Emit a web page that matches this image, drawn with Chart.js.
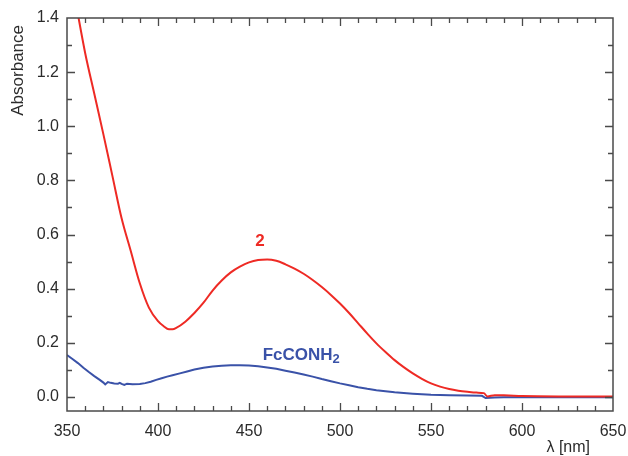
<!DOCTYPE html>
<html>
<head>
<meta charset="utf-8">
<script src="https://cdn.jsdelivr.net/npm/chart.js@4/dist/chart.umd.min.js"></script>
<style>
  body { margin: 0; background: #fff; }
  #wrap { width: 628px; height: 456px; }
</style>
</head>
<body>
<div id="wrap"><canvas id="spectra" width="628" height="456"></canvas></div>
<script>
// wavelength axis range and y ticks
const xRange = [350, 650];
const yRange = [-0.052, 1.4];
const yTickValues = [0.0, 0.2, 0.4, 0.6, 0.8, 1.0, 1.2, 1.4];

// compound 2
const lambdaRed = [350, 355, 360, 365, 370, 375, 380, 385, 390, 395, 400, 403, 406, 408, 410, 415, 420, 425, 430, 435,
  440, 445, 450, 455, 460, 465, 470, 475, 480, 485, 490, 495, 500, 505, 510, 515, 520, 525, 530, 535,
  540, 545, 550, 555, 560, 565, 570, 575, 579, 581, 585, 590, 600, 620, 650];
const absRed = [1.63, 1.45, 1.27, 1.12, 0.97, 0.815, 0.66, 0.54, 0.42, 0.33, 0.28, 0.262, 0.25, 0.25, 0.255, 0.278, 0.31, 0.348, 0.393, 0.43,
  0.46, 0.481, 0.497, 0.506, 0.508, 0.503, 0.49, 0.474, 0.455, 0.432, 0.406, 0.377, 0.345, 0.31, 0.272, 0.234, 0.198, 0.166, 0.136, 0.11,
  0.087, 0.067, 0.05, 0.038, 0.029, 0.023, 0.019, 0.016, 0.014, 0.002, 0.006, 0.006, 0.003, 0.002, 0.002];

// FcCONH2
const lambdaBlue = [350, 353, 356, 359, 362, 365, 368, 370, 371, 372.5, 374, 376, 378, 379, 380, 381.5, 383, 386, 390, 393,
  396, 399, 402, 405, 408, 412, 416, 420, 425, 430, 435, 440, 445, 450, 455, 460, 465, 470, 475, 480,
  485, 490, 495, 500, 505, 510, 515, 520, 530, 540, 550, 560, 570, 578, 580, 585, 590, 600, 650];
const absBlue = [0.155, 0.14, 0.125, 0.108, 0.092, 0.077, 0.063, 0.053, 0.046, 0.055, 0.052, 0.05, 0.049, 0.052, 0.048, 0.044, 0.049, 0.047, 0.048, 0.051,
  0.056, 0.063, 0.069, 0.075, 0.08, 0.087, 0.094, 0.101, 0.108, 0.112, 0.115, 0.117, 0.117, 0.116, 0.113, 0.109, 0.104, 0.097, 0.09, 0.083,
  0.075, 0.066, 0.058, 0.05, 0.043, 0.036, 0.03, 0.025, 0.017, 0.012, 0.008, 0.006, 0.005, 0.004, -0.004, -0.002, -0.001, -0.001, -0.001];

const redColor = '#ee2a24';
const blueColor = '#3a52a8';
const inkColor = '#2b2b2b';
const font = '"Liberation Sans", Arial, sans-serif';

function toPoints(xs, ys) {
  return xs.map((v, i) => ({ x: v, y: ys[i] }));
}

// boxed frame with inward ticks on all four sides, plus the text labels
const frameTicks = {
  id: 'frameTicks',
  afterDraw(chart) {
    const { ctx, chartArea: a, scales: { x, y } } = chart;
    ctx.save();
    ctx.strokeStyle = '#4a4a4a';
    ctx.lineWidth = 1.5;
    ctx.strokeRect(a.left, a.top, a.width, a.height);

    ctx.lineWidth = 1.3;
    ctx.beginPath();
    for (let v = xRange[0] + 10; v < xRange[1]; v += 10) {
      const px = Math.round(x.getPixelForValue(v)) + 0.5;
      const len = v % 50 === 0 ? 8 : 5;
      ctx.moveTo(px, a.bottom); ctx.lineTo(px, a.bottom - len);
      ctx.moveTo(px, a.top); ctx.lineTo(px, a.top + len);
    }
    for (let i = 0; i < 14; i++) {
      const py = Math.round(y.getPixelForValue(i / 10)) + 0.5;
      const len = i % 2 === 0 ? 8 : 5;
      ctx.moveTo(a.left, py); ctx.lineTo(a.left + len, py);
      ctx.moveTo(a.right, py); ctx.lineTo(a.right - len, py);
    }
    ctx.stroke();

    // axis titles
    ctx.fillStyle = inkColor;
    ctx.font = '16px ' + font;
    ctx.textBaseline = 'middle';
    ctx.textAlign = 'right';
    ctx.fillText('λ [nm]', a.right - 23, chart.height - 8);

    ctx.save();
    ctx.translate(18, a.top + 7);
    ctx.rotate(-Math.PI / 2);
    ctx.font = '17px ' + font;
    ctx.textAlign = 'right';
    ctx.fillText('Absorbance', 0, 0);
    ctx.restore();

    // series labels
    ctx.font = 'bold 17px ' + font;
    ctx.textAlign = 'center';
    ctx.fillStyle = redColor;
    ctx.fillText('2', x.getPixelForValue(456), y.getPixelForValue(0.574));

    ctx.fillStyle = blueColor;
    ctx.textAlign = 'left';
    const lx = x.getPixelForValue(457.5);
    const ly = y.getPixelForValue(0.155);
    ctx.fillText('FcCONH', lx, ly);
    const w = ctx.measureText('FcCONH').width;
    ctx.font = 'bold 13px ' + font;
    ctx.fillText('2', lx + w, ly + 4);
    ctx.restore();
  }
};

new Chart(document.getElementById('spectra'), {
  type: 'line',
  data: {
    datasets: [
      {
        label: '2',
        data: toPoints(lambdaRed, absRed),
        borderColor: redColor,
        borderWidth: 2,
        pointRadius: 0,
        cubicInterpolationMode: 'monotone'
      },
      {
        label: 'FcCONH2',
        data: toPoints(lambdaBlue, absBlue),
        borderColor: blueColor,
        borderWidth: 2,
        pointRadius: 0,
        tension: 0
      }
    ]
  },
  options: {
    responsive: false,
    animation: false,
    layout: { padding: { top: 18, right: 15, left: 0, bottom: 0 } },
    plugins: { legend: { display: false }, tooltip: { enabled: false } },
    scales: {
      x: {
        type: 'linear',
        min: xRange[0],
        max: xRange[1],
        grid: { display: false, drawTicks: false },
        border: { display: false },
        ticks: {
          stepSize: 50,
          padding: 11,
          color: inkColor,
          font: { family: font, size: 16 },
          maxRotation: 0
        },
        afterFit(scale) {
          scale.height = 45;
          scale.paddingLeft = 0;
          scale.paddingRight = 0;
        }
      },
      y: {
        type: 'linear',
        min: yRange[0],
        max: yRange[1],
        grid: { display: false, drawTicks: false },
        border: { display: false },
        afterBuildTicks(scale) {
          scale.ticks = yTickValues.map(v => ({ value: v }));
        },
        ticks: {
          padding: 8,
          color: inkColor,
          font: { family: font, size: 16 },
          callback: v => v.toFixed(1)
        },
        afterFit(scale) {
          scale.width = 67;
          scale.paddingTop = 0;
          scale.paddingBottom = 0;
        }
      }
    }
  },
  plugins: [frameTicks]
});
</script>
</body>
</html>
